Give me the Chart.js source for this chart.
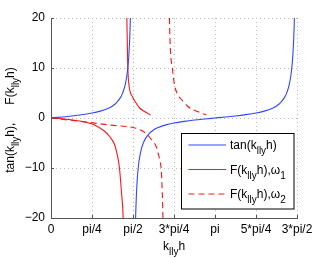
<!DOCTYPE html>
<html>
<head>
<meta charset="utf-8">
<script src="https://cdn.jsdelivr.net/npm/chart.js@4/dist/chart.umd.min.js"></script>
<style>
  body { margin: 0; background: #fff; }
  #wrap { width: 327px; height: 258px; }
</style>
</head>
<body>
<div id="wrap"><canvas id="kChart"></canvas></div>
<script>
const xTickLabels = ['0', 'pi/4', 'pi/2', '3*pi/4', 'pi', '5*pi/4', '3*pi/2']
const yTicks = [-20, -10, 0, 10, 20]

const tanX = [0, 0.5, 1, 1.2, 1.4, 1.5, 1.6, 1.7, 1.75, 1.8, 1.85, 1.88, 1.9, 1.93, 1.95, 1.97, 2,
  2.03, 2.05, 2.07, 2.1, 2.12, 2.15, 2.2, 2.25, 2.3, 2.4, 2.5, 2.6, 2.8, 3, 3.25, 3.5, 3.75, 4,
  4.25, 4.5, 4.75, 5, 5.2, 5.4, 5.5, 5.6, 5.7, 5.75, 5.8, 5.85, 5.88, 5.9, 5.93, 5.95, 5.97]
const tanY = [0, 0.41, 1, 1.38, 1.96, 2.41, 3.08, 4.17, 5.03, 6.31, 8.45, 10.6, 12.7, 18.2, 25.4, 42.4, null,
  -42.4, -25.4, -18.2, -12.7, -10.6, -8.45, -6.31, -5.03, -4.17, -3.08, -2.41, -1.96, -1.38, -1, -0.67, -0.41, -0.2, 0,
  0.2, 0.41, 0.67, 1, 1.38, 1.96, 2.41, 3.08, 4.17, 5.03, 6.31, 8.45, 10.6, 12.7, 18.2, 25.4, 42.4]

const f1X = [0, 0.33, 0.77, 1.06, 1.3, 1.43, 1.55, 1.62, 1.67, 1.72, 1.76, 1.78, 1.8,
  1.83, 1.85, 1.87, 1.89, 1.99, 2.09, 2.16, 2.28, 2.43]
const f1Y = [0, -0.2, -0.7, -1.4, -2.6, -3.7, -5.3, -7.5, -10, -15, -20, -28, null,
  28, 20, 11.3, 7.5, 4.2, 2.8, 2, 1.3, 0.6]

const f2X = [0, 0.94, 1.43, 2, 2.16, 2.32, 2.45, 2.57, 2.61, 2.65, 2.69, 2.71, 2.73, 2.74, 2.8,
  2.88, 2.89, 2.91, 2.96, 3.01, 3.09, 3.18, 3.34, 3.46, 3.66, 3.79]
const f2Y = [0, -0.9, -1.4, -1.9, -2.3, -3.1, -4.3, -5.8, -7, -8.3, -10.5, -14, -20, -26, null,
  26, 20, 14, 10, 6.7, 4.7, 3.7, 2.3, 1.7, 1, 0.6]

const BLUE = 'rgb(50,70,255)'
const RED = 'rgb(255,20,20)'
const FONT = '"Liberation Sans", Arial, sans-serif'

const toPoints = (xs, ys) => xs.map((x, i) => ({ x: x, y: ys[i] }))

// legend entries: pieces of text, sub = subscript
const legendItems = [
  { color: BLUE, dash: [], parts: [{ t: 'tan(k' }, { t: 'lly', sub: 1 }, { t: 'h)' }] },
  { color: RED, dash: [], parts: [{ t: 'F(k' }, { t: 'lly', sub: 1 }, { t: 'h),\u03c9' }, { t: '1', sub: 1 }] },
  { color: RED, dash: [6, 4], parts: [{ t: 'F(k' }, { t: 'lly', sub: 1 }, { t: 'h),\u03c9' }, { t: '2', sub: 1 }] },
]

function richWidth(ctx, parts) {
  let w = 0
  parts.forEach((p) => {
    ctx.font = (p.sub ? '10px ' : '12px ') + FONT
    w += p.gap || ctx.measureText(p.t).width
  })
  return w
}

function drawRich(ctx, parts, x, y) {
  let cx = x
  parts.forEach((p) => {
    if (p.gap) { cx += p.gap; return }
    ctx.font = (p.sub ? '10px ' : '12px ') + FONT
    ctx.fillText(p.t, cx, p.sub ? y + 5 : y)
    cx += ctx.measureText(p.t).width
  })
}

const extras = {
  id: 'extras',
  afterDraw(chart) {
    const { ctx, chartArea: a, scales } = chart
    ctx.save()

    // small inward tick marks
    ctx.strokeStyle = '#555'
    ctx.lineWidth = 1
    ctx.beginPath()
    scales.x.ticks.forEach((t) => {
      const px = Math.round(scales.x.getPixelForValue(t.value)) + 0.5
      ctx.moveTo(px, a.bottom)
      ctx.lineTo(px, a.bottom - 3)
    })
    scales.y.ticks.forEach((t) => {
      const py = Math.round(scales.y.getPixelForValue(t.value)) + 0.5
      ctx.moveTo(a.left, py)
      ctx.lineTo(a.left + 3, py)
    })
    ctx.stroke()

    // legend box
    const bx = a.right - 116, by = a.bottom - 85.5, bw = 112.5, bh = 75.5
    ctx.fillStyle = '#fff'
    ctx.fillRect(bx, by, bw, bh)
    ctx.strokeStyle = '#000'
    ctx.lineWidth = 1
    ctx.strokeRect(Math.round(bx) + 0.5, Math.round(by) + 0.5, bw, bh)
    legendItems.forEach((item, i) => {
      const ly = by + 12.5 + i * 24.5
      ctx.strokeStyle = item.color
      ctx.setLineDash(item.dash)
      ctx.beginPath()
      ctx.moveTo(bx + 7.5, ly)
      ctx.lineTo(bx + 45, ly)
      ctx.stroke()
      ctx.setLineDash([])
      ctx.fillStyle = '#000'
      ctx.textBaseline = 'alphabetic'
      drawRich(ctx, item.parts, bx + 49, ly + 4)
    })

    // x axis title
    const xParts = [{ t: 'k' }, { t: 'lly', sub: 1 }, { t: 'h' }]
    const xw = richWidth(ctx, xParts)
    drawRich(ctx, xParts, (a.left + a.right) / 2 - xw / 2, 250)

    // y axis title, rotated
    const yParts = [{ t: 'tan(k' }, { t: 'lly', sub: 1 }, { t: 'h),' }, { gap: 18 },
      { t: 'F(k' }, { t: 'lly', sub: 1 }, { t: 'h)' }]
    const yw = richWidth(ctx, yParts)
    ctx.translate(14, 120)
    ctx.rotate(-Math.PI / 2)
    drawRich(ctx, yParts, -yw / 2, 0)

    ctx.restore()
  },
}

Chart.defaults.font.family = FONT
Chart.defaults.font.size = 12
Chart.defaults.color = '#000'

const ctx = document.getElementById('kChart').getContext('2d')
new Chart(ctx, {
  type: 'line',
  data: {
    datasets: [
      { label: 'tan', data: toPoints(tanX, tanY), borderColor: BLUE },
      { label: 'F1', data: toPoints(f1X, f1Y), borderColor: RED },
      { label: 'F2', data: toPoints(f2X, f2Y), borderColor: RED, borderDash: [6, 4] },
    ],
  },
  options: {
    responsive: true,
    maintainAspectRatio: false,
    animation: false,
    layout: { padding: { top: 18, right: 30, left: 0, bottom: 0 } },
    elements: {
      point: { radius: 0 },
      line: { borderWidth: 1.1, cubicInterpolationMode: 'monotone', fill: false },
    },
    spanGaps: false,
    plugins: { legend: { display: false }, tooltip: { enabled: false } },
    scales: {
      x: {
        type: 'linear',
        min: 0,
        max: 6,
        afterFit: (s) => { s.height = 40 },
        ticks: {
          stepSize: 1,
          padding: 4,
          maxRotation: 0,
          callback: (v) => xTickLabels[v],
        },
        grid: { color: '#bbb', drawTicks: false },
        border: { color: '#555', dash: [1, 3] },
      },
      y: {
        min: -20,
        max: 20,
        afterFit: (s) => { s.width = 51 },
        afterBuildTicks: (s) => { s.ticks = yTicks.map((v) => ({ value: v })) },
        ticks: {
          padding: 6,
          callback: (v) => (v < 0 ? '\u2212' + -v : '' + v),
        },
        grid: { color: '#bbb', drawTicks: false },
        border: { color: '#555', dash: [1, 3] },
      },
    },
  },
  plugins: [extras],
})
</script>
</body>
</html>
